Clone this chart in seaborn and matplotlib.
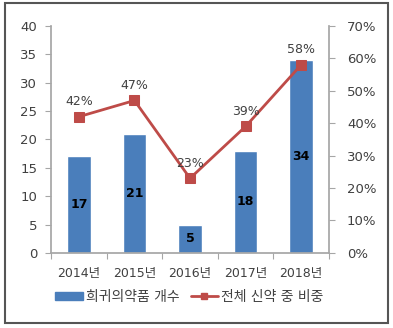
import matplotlib
matplotlib.use("Agg")
import matplotlib.pyplot as plt
import seaborn as sns
import pandas as pd
from matplotlib.patches import Rectangle, Patch
from matplotlib.lines import Line2D
from matplotlib.ticker import FuncFormatter, FixedLocator

years = ["2014년", "2015년", "2016년", "2017년", "2018년"]
counts = [17, 21, 5, 18, 34]
shares = [42, 47, 23, 39, 58]
bar_label = "희귀의약품 개수"
line_label = "전체 신약 중 비중"

sns.set_theme(style="white")
plt.rcParams['font.family'] = ['DejaVu Sans', 'Noto Sans CJK KR']

bar_color = "#4A7EBB"
line_color = "#BE4B48"
spine_color = "#A6A6A6"
text_color = "#404040"

df = pd.DataFrame({"year": years, "count": counts, "share": shares})

fig = plt.figure(figsize=(3.93, 3.28), dpi=100)
ax = fig.add_axes([0.130, 0.229, 0.707, 0.692])

sns.barplot(data=df, x="year", y="count", color=bar_color, width=0.42,
            saturation=1, ax=ax)
ax.set_ylim(0, 40)
ax.set_xlim(-0.5, 4.5)
ax.set_yticks(range(0, 41, 5))
ax.set_xlabel("")
ax.set_ylabel("")

for i, v in enumerate(counts):
    ax.text(i, v / 2, str(v), ha="center", va="center", fontsize=9,
            fontweight="bold", color="black")

ax2 = ax.twinx()
sns.lineplot(x=list(range(len(years))), y=shares, color=line_color, marker="s",
             markersize=7, markeredgecolor=line_color, linewidth=2, ax=ax2)
ax2.set_ylim(0, 70)
ax2.set_yticks(range(0, 71, 10))
ax2.yaxis.set_major_formatter(FuncFormatter(lambda v, p: f"{int(v)}%"))
ax2.set_xlim(-0.5, 4.5)
for i, v in enumerate(shares):
    ax2.text(i, v + 2.6, f"{v}%", ha="center", va="bottom", fontsize=9,
             color=text_color)

for a in (ax, ax2):
    for s in a.spines.values():
        s.set_visible(False)
    a.tick_params(axis="y", colors=spine_color, labelcolor=text_color,
                  labelsize=9.5, length=4, width=0.8, direction="out")
ax.spines["left"].set_visible(True)
ax.spines["left"].set_color(spine_color)
ax.spines["bottom"].set_visible(True)
ax.spines["bottom"].set_color(spine_color)
ax2.spines["right"].set_visible(True)
ax2.spines["right"].set_color(spine_color)
ax.tick_params(axis="y", left=True, pad=6)
ax2.tick_params(axis="y", right=True, pad=9)

ax.xaxis.set_minor_locator(FixedLocator([-0.5, 0.5, 1.5, 2.5, 3.5, 4.5]))
ax.tick_params(axis="x", which="major", length=0, labelsize=9,
               labelcolor=text_color, pad=10)
ax.tick_params(axis="x", which="minor", bottom=True, length=4, width=0.8,
               color=spine_color)

handles = [Patch(facecolor=bar_color, edgecolor=bar_color),
           Line2D([0], [0], color=line_color, marker="s", markersize=5,
                  linewidth=2)]
fig.legend(handles, [bar_label, line_label], loc="center",
           bbox_to_anchor=(0.482, 0.095), ncol=2, frameon=False, fontsize=10,
           handlelength=2.0, handleheight=0.5, columnspacing=0.8,
           handletextpad=0.2, labelcolor=text_color)

fig.patches.append(Rectangle((0.012, 0.015), 0.976, 0.975,
                             transform=fig.transFigure, fill=False,
                             edgecolor="#555555", linewidth=1.5))

fig.savefig("out.png", dpi=100)
